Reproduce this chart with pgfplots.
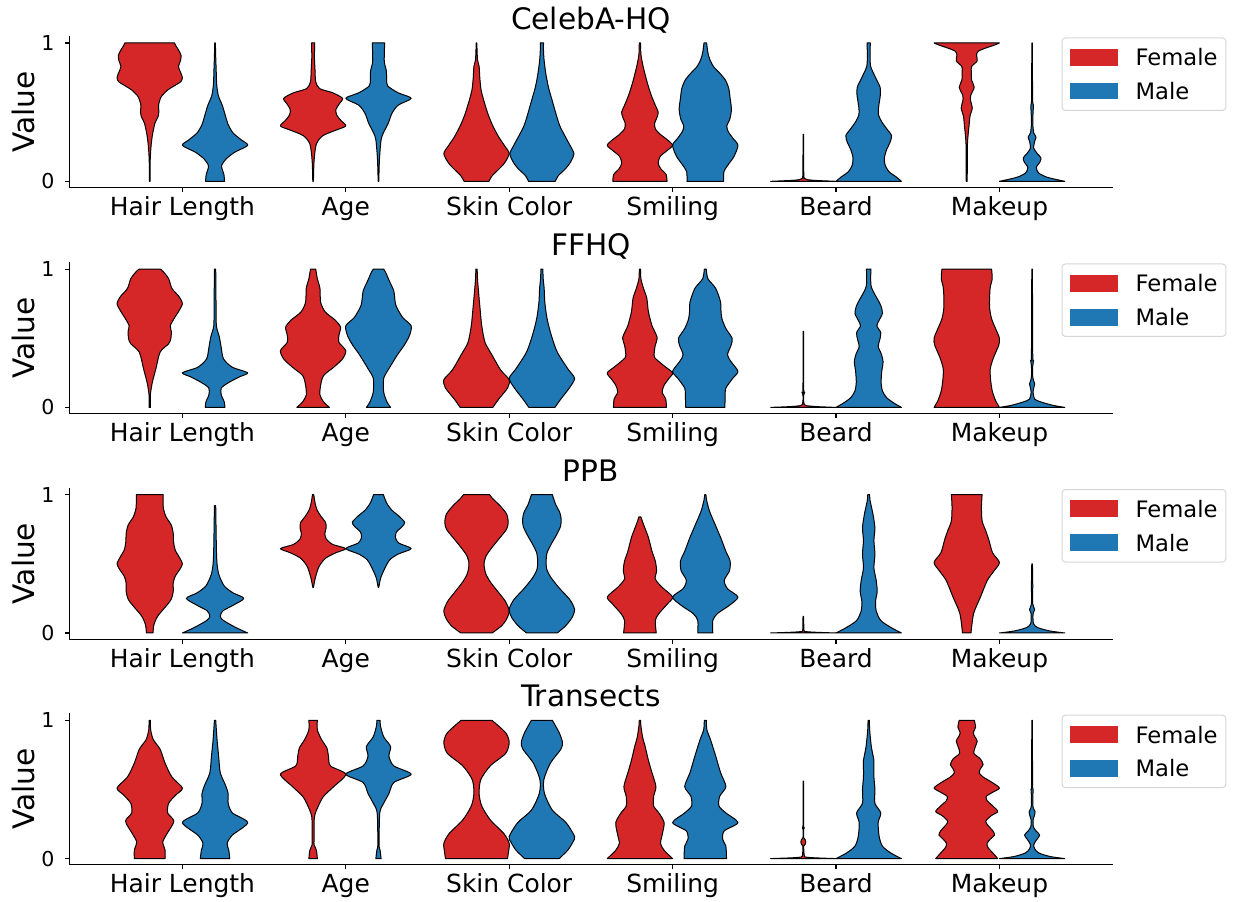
\documentclass[border=0pt]{standalone}
\usepackage{fontspec}
\setmainfont{DejaVu Sans}
\usepackage{pgfplots}
\pgfplotsset{compat=1.18}
\usepackage{pgfplotstable}
\usepgfplotslibrary{fillbetween}

\definecolor{fem}{HTML}{D62728}
\definecolor{mal}{HTML}{1F77B4}
\definecolor{legframe}{HTML}{D6D6D6}

% Each table holds one violin outline: value v and relative half-width w
% (w = 1 is the widest violin, 0.2 axis units from its centre).

% ---------------- CelebA-HQ ----------------
\pgfplotstableread{
v w
0.00 0.01
0.15 0.015
0.25 0.04
0.33 0.08
0.42 0.16
0.47 0.26
0.51 0.28
0.55 0.27
0.61 0.35
0.66 0.55
0.69 0.75
0.72 0.95
0.75 1.00
0.79 0.94
0.83 0.88
0.87 0.94
0.91 0.96
0.95 0.88
0.98 0.80
1.00 0.76
}\cAhF
\pgfplotstableread{
v w
0.00 0.29
0.05 0.27
0.11 0.20
0.16 0.33
0.21 0.60
0.26 1.00
0.30 0.80
0.35 0.55
0.41 0.40
0.48 0.31
0.55 0.22
0.62 0.10
0.70 0.05
0.80 0.035
0.90 0.02
1.00 0.01
}\cAhM
\pgfplotstableread{
v w
0.00 0.01
0.15 0.03
0.27 0.10
0.33 0.30
0.37 0.70
0.40 1.00
0.44 0.85
0.48 0.72
0.52 0.70
0.56 0.80
0.60 0.90
0.64 0.60
0.67 0.20
0.72 0.08
0.80 0.06
0.90 0.04
1.00 0.05
}\cAaF
\pgfplotstableread{
v w
0.00 0.01
0.16 0.03
0.30 0.08
0.35 0.15
0.42 0.30
0.49 0.41
0.55 0.60
0.60 1.00
0.64 0.60
0.69 0.28
0.74 0.25
0.80 0.24
0.86 0.18
0.93 0.18
1.00 0.19
}\cAaM
\pgfplotstableread{
v w
0.00 0.38
0.04 0.48
0.08 0.65
0.13 0.85
0.20 1.00
0.26 0.85
0.32 0.68
0.40 0.50
0.48 0.36
0.57 0.24
0.66 0.14
0.75 0.10
0.83 0.08
0.88 0.03
1.00 0.01
}\cAsF
\pgfplotstableread{
v w
0.00 0.41
0.04 0.50
0.09 0.72
0.14 0.88
0.20 0.98
0.26 0.86
0.33 0.70
0.40 0.55
0.48 0.44
0.58 0.32
0.68 0.20
0.78 0.12
0.87 0.07
0.94 0.05
1.00 0.05
}\cAsM
\pgfplotstableread{
v w
0.00 0.83
0.05 0.80
0.09 0.64
0.13 0.56
0.18 0.62
0.22 0.82
0.26 1.00
0.30 0.84
0.34 0.62
0.38 0.47
0.42 0.45
0.46 0.52
0.50 0.56
0.55 0.47
0.62 0.35
0.70 0.24
0.78 0.15
0.85 0.08
0.92 0.03
1.00 0.02
}\cAmF
\pgfplotstableread{
v w
0.00 0.56
0.07 0.57
0.12 0.70
0.18 0.88
0.26 1.00
0.31 0.85
0.36 0.70
0.40 0.66
0.45 0.75
0.52 0.80
0.60 0.76
0.67 0.72
0.73 0.62
0.78 0.45
0.83 0.25
0.88 0.14
0.93 0.08
1.00 0.04
}\cAmM
\pgfplotstableread{
v w
0.000 1.00
0.006 0.40
0.012 0.12
0.020 0.04
0.040 0.015
0.20 0.01
0.34 0.008
}\cAbF
\pgfplotstableread{
v w
0.00 1.00
0.03 0.85
0.07 0.62
0.12 0.50
0.17 0.48
0.23 0.55
0.28 0.65
0.33 0.70
0.38 0.55
0.43 0.40
0.48 0.30
0.53 0.30
0.58 0.33
0.63 0.36
0.68 0.35
0.73 0.25
0.78 0.15
0.83 0.06
0.90 0.04
1.00 0.05
}\cAbM
\pgfplotstableread{
v w
0.00 0.015
0.25 0.02
0.33 0.04
0.40 0.07
0.47 0.10
0.53 0.17
0.58 0.12
0.62 0.12
0.68 0.23
0.73 0.15
0.79 0.14
0.83 0.15
0.87 0.32
0.91 0.30
0.94 0.35
0.965 0.60
0.985 0.85
1.00 1.00
}\cAkF
\pgfplotstableread{
v w
0.00 1.00
0.01 0.80
0.03 0.45
0.06 0.20
0.10 0.13
0.14 0.24
0.17 0.27
0.20 0.16
0.24 0.05
0.29 0.08
0.32 0.12
0.35 0.05
0.42 0.02
0.50 0.03
0.55 0.04
0.60 0.015
1.00 0.01
}\cAkM

% ---------------- FFHQ ----------------
\pgfplotstableread{
v w
0.00 0.02
0.09 0.02
0.18 0.08
0.28 0.19
0.40 0.32
0.46 0.58
0.50 0.65
0.55 0.66
0.59 0.63
0.64 0.74
0.70 0.90
0.75 1.00
0.80 0.90
0.86 0.68
0.93 0.58
0.98 0.42
1.00 0.32
}\ffhF
\pgfplotstableread{
v w
0.00 0.30
0.04 0.28
0.09 0.19
0.14 0.19
0.18 0.42
0.22 0.74
0.25 1.00
0.29 0.53
0.35 0.26
0.43 0.19
0.51 0.13
0.59 0.04
0.74 0.03
1.00 0.02
}\ffhM
\pgfplotstableread{
v w
0.00 0.50
0.04 0.32
0.09 0.21
0.16 0.23
0.23 0.32
0.29 0.63
0.35 0.90
0.41 1.00
0.47 0.79
0.52 0.79
0.58 0.84
0.63 0.68
0.69 0.37
0.76 0.23
0.86 0.21
0.93 0.13
1.00 0.08
}\ffaF
\pgfplotstableread{
v w
0.00 0.37
0.04 0.26
0.11 0.16
0.21 0.16
0.28 0.32
0.38 0.58
0.45 0.79
0.52 0.95
0.59 1.00
0.65 0.74
0.74 0.53
0.84 0.47
0.91 0.34
0.97 0.23
1.00 0.16
}\ffaM
\pgfplotstableread{
v w
0.00 0.50
0.06 0.68
0.14 0.95
0.20 1.00
0.27 0.74
0.38 0.47
0.47 0.26
0.59 0.16
0.71 0.11
0.84 0.06
0.93 0.03
1.00 0.02
}\ffsF
\pgfplotstableread{
v w
0.00 0.40
0.06 0.58
0.14 0.84
0.21 1.00
0.28 0.79
0.40 0.47
0.52 0.29
0.64 0.16
0.76 0.09
0.86 0.07
0.93 0.04
1.00 0.03
}\ffsM
\pgfplotstableread{
v w
0.00 0.81
0.06 0.79
0.11 0.68
0.16 0.74
0.21 0.89
0.25 1.00
0.30 0.74
0.36 0.45
0.40 0.44
0.45 0.47
0.50 0.53
0.55 0.45
0.59 0.37
0.69 0.26
0.79 0.21
0.86 0.11
0.93 0.03
1.00 0.02
}\ffmF
\pgfplotstableread{
v w
0.00 0.60
0.09 0.61
0.14 0.63
0.21 0.84
0.26 1.00
0.33 0.79
0.38 0.68
0.45 0.79
0.50 0.82
0.57 0.63
0.64 0.51
0.70 0.48
0.76 0.47
0.86 0.32
0.93 0.08
1.00 0.03
}\ffmM
\pgfplotstableread{
v w
0.000 1.00
0.005 0.45
0.012 0.10
0.020 0.03
0.04 0.012
0.09 0.012
0.11 0.045
0.13 0.012
0.55 0.008
}\ffbF
\pgfplotstableread{
v w
0.00 1.00
0.03 0.78
0.07 0.55
0.12 0.42
0.18 0.38
0.26 0.40
0.33 0.44
0.39 0.38
0.44 0.29
0.49 0.34
0.54 0.37
0.59 0.25
0.63 0.32
0.68 0.42
0.73 0.38
0.77 0.30
0.82 0.18
0.87 0.08
0.93 0.06
1.00 0.07
}\ffbM
\pgfplotstableread{
v w
0.00 1.00
0.05 0.88
0.12 0.78
0.20 0.73
0.28 0.72
0.36 0.82
0.45 0.98
0.50 1.00
0.56 0.90
0.64 0.76
0.72 0.70
0.80 0.70
0.87 0.72
0.93 0.78
1.00 0.76
}\ffkF
\pgfplotstableread{
v w
0.00 1.00
0.015 0.63
0.04 0.26
0.06 0.08
0.11 0.03
0.15 0.06
0.17 0.08
0.19 0.05
0.22 0.02
0.30 0.02
0.34 0.045
0.38 0.02
1.00 0.01
}\ffkM

% ---------------- PPB ----------------
\pgfplotstableread{
v w
0.00 0.10
0.06 0.13
0.12 0.24
0.18 0.45
0.24 0.65
0.30 0.72
0.36 0.72
0.41 0.78
0.46 0.92
0.50 1.00
0.55 0.90
0.60 0.78
0.66 0.73
0.72 0.72
0.78 0.66
0.84 0.50
0.90 0.42
0.96 0.41
1.00 0.41
}\pphF
\pgfplotstableread{
v w
0.00 1.00
0.04 0.63
0.09 0.26
0.12 0.16
0.16 0.24
0.20 0.55
0.25 0.88
0.29 0.55
0.34 0.28
0.42 0.12
0.50 0.06
0.62 0.04
0.92 0.02
}\pphM
\pgfplotstableread{
v w
0.33 0.01
0.40 0.07
0.48 0.18
0.54 0.38
0.58 0.70
0.61 1.00
0.64 0.60
0.68 0.40
0.72 0.36
0.76 0.40
0.80 0.38
0.84 0.25
0.89 0.12
0.94 0.06
1.00 0.02
}\ppaF
\pgfplotstableread{
v w
0.33 0.01
0.40 0.07
0.47 0.20
0.53 0.35
0.57 0.60
0.61 1.00
0.65 0.62
0.69 0.52
0.73 0.55
0.77 0.73
0.80 0.80
0.84 0.65
0.89 0.40
0.94 0.25
1.00 0.15
}\ppaM
\pgfplotstableread{
v w
0.00 0.48
0.05 0.76
0.10 0.92
0.16 1.00
0.23 0.88
0.30 0.65
0.37 0.42
0.43 0.28
0.50 0.23
0.56 0.30
0.62 0.48
0.69 0.72
0.75 0.92
0.80 0.97
0.86 0.92
0.92 0.72
0.97 0.50
1.00 0.40
}\ppsF
\pgfplotstableread{
v w
0.00 0.47
0.05 0.72
0.11 0.92
0.17 1.00
0.24 0.86
0.32 0.55
0.40 0.28
0.46 0.15
0.52 0.13
0.58 0.16
0.64 0.28
0.71 0.45
0.77 0.57
0.82 0.59
0.87 0.55
0.93 0.42
1.00 0.32
}\ppsM
\pgfplotstableread{
v w
0.00 0.50
0.09 0.47
0.14 0.58
0.21 0.84
0.26 1.00
0.33 0.68
0.39 0.47
0.45 0.51
0.52 0.47
0.59 0.37
0.69 0.26
0.76 0.15
0.81 0.07
0.84 0.03
}\ppmF
\pgfplotstableread{
v w
0.00 0.23
0.09 0.23
0.14 0.37
0.20 0.74
0.26 1.00
0.32 0.68
0.38 0.58
0.45 0.74
0.52 0.76
0.59 0.63
0.69 0.47
0.79 0.29
0.88 0.13
0.96 0.04
1.00 0.02
}\ppmM
\pgfplotstableread{
v w
0.000 1.00
0.005 0.40
0.010 0.08
0.020 0.02
0.12 0.01
}\ppbF
\pgfplotstableread{
v w
0.00 1.00
0.04 0.68
0.09 0.37
0.16 0.23
0.23 0.21
0.30 0.26
0.38 0.23
0.47 0.16
0.57 0.19
0.67 0.16
0.76 0.19
0.86 0.13
0.96 0.04
1.00 0.03
}\ppbM
\pgfplotstableread{
v w
0.00 0.13
0.14 0.21
0.26 0.42
0.38 0.63
0.45 0.84
0.51 1.00
0.58 0.79
0.67 0.68
0.74 0.58
0.81 0.47
0.91 0.45
1.00 0.47
}\ppkF
\pgfplotstableread{
v w
0.00 1.00
0.015 0.53
0.04 0.16
0.07 0.04
0.14 0.03
0.17 0.08
0.21 0.02
0.35 0.02
0.50 0.01
}\ppkM

% ---------------- Transects ----------------
\pgfplotstableread{
v w
0.00 0.47
0.06 0.47
0.12 0.40
0.18 0.53
0.27 0.74
0.33 0.55
0.40 0.58
0.46 0.80
0.51 1.00
0.59 0.68
0.69 0.47
0.79 0.32
0.86 0.11
0.93 0.03
1.00 0.02
}\trhF
\pgfplotstableread{
v w
0.00 0.45
0.06 0.42
0.11 0.37
0.17 0.53
0.26 1.00
0.33 0.53
0.40 0.40
0.47 0.40
0.53 0.32
0.62 0.16
0.74 0.11
0.86 0.06
1.00 0.02
}\trhM
\pgfplotstableread{
v w
0.00 0.13
0.06 0.10
0.10 0.03
0.14 0.03
0.30 0.04
0.38 0.16
0.45 0.32
0.52 0.63
0.61 1.00
0.67 0.53
0.74 0.47
0.80 0.42
0.86 0.26
0.93 0.13
1.00 0.13
}\traF
\pgfplotstableread{
v w
0.00 0.08
0.06 0.05
0.10 0.02
0.33 0.04
0.40 0.16
0.47 0.32
0.55 0.47
0.61 1.00
0.67 0.47
0.74 0.32
0.81 0.37
0.88 0.16
0.96 0.06
1.00 0.05
}\traM
\pgfplotstableread{
v w
0.00 0.95
0.05 0.98
0.11 1.00
0.18 0.84
0.28 0.42
0.38 0.16
0.47 0.08
0.57 0.13
0.67 0.42
0.76 0.89
0.84 1.00
0.91 0.89
1.00 0.47
}\trsF
\pgfplotstableread{
v w
0.00 0.53
0.06 0.79
0.12 0.95
0.16 1.00
0.26 0.74
0.35 0.32
0.47 0.08
0.57 0.06
0.69 0.26
0.79 0.58
0.84 0.63
0.91 0.53
1.00 0.32
}\trsM
\pgfplotstableread{
v w
0.00 1.00
0.06 0.74
0.11 0.63
0.17 0.68
0.26 0.74
0.33 0.58
0.38 0.42
0.45 0.42
0.52 0.49
0.62 0.37
0.71 0.26
0.81 0.16
0.88 0.08
0.96 0.03
1.00 0.02
}\trmF
\pgfplotstableread{
v w
0.00 0.65
0.09 0.63
0.14 0.53
0.20 0.58
0.26 1.00
0.33 0.63
0.38 0.42
0.45 0.44
0.52 0.63
0.62 0.47
0.74 0.32
0.86 0.16
0.93 0.05
1.00 0.03
}\trmM
\pgfplotstableread{
v w
0.000 1.00
0.005 0.40
0.010 0.10
0.020 0.03
0.09 0.012
0.105 0.06
0.12 0.075
0.135 0.06
0.15 0.012
0.21 0.01
0.225 0.03
0.24 0.01
0.56 0.008
}\trbF
\pgfplotstableread{
v w
0.00 1.00
0.04 0.68
0.09 0.42
0.16 0.32
0.26 0.29
0.33 0.37
0.40 0.19
0.50 0.19
0.59 0.16
0.67 0.16
0.71 0.16
0.81 0.08
0.93 0.03
1.00 0.02
}\trbM
\pgfplotstableread{
v w
0.00 0.95
0.04 0.80
0.08 0.65
0.11 0.62
0.14 0.72
0.17 0.85
0.20 0.80
0.24 0.65
0.27 0.58
0.31 0.75
0.34 0.95
0.38 0.80
0.42 0.62
0.45 0.60
0.48 0.80
0.51 1.00
0.55 0.78
0.59 0.50
0.62 0.38
0.65 0.42
0.68 0.50
0.72 0.42
0.76 0.22
0.80 0.25
0.85 0.32
0.88 0.25
0.91 0.20
0.95 0.27
1.00 0.23
}\trkF
\pgfplotstableread{
v w
0.00 1.00
0.015 0.55
0.04 0.21
0.07 0.08
0.10 0.05
0.13 0.12
0.17 0.23
0.20 0.12
0.23 0.04
0.28 0.03
0.31 0.07
0.34 0.09
0.37 0.03
0.45 0.02
0.50 0.035
0.54 0.015
1.00 0.01
}\trkM

% One violin: right and left outlines (both running upwards), joined into
% one closed outline and filled.
% #1 table, #2 centre on the x axis, #3 fill colour, #4 unique name
\newcommand{\violin}[4]{%
  \addplot[draw=none, forget plot, smooth, tension=0.45, name path=#4r]
    table[x expr={#2+0.2*\thisrow{w}}, y=v] {#1};
  \addplot[draw=none, forget plot, smooth, tension=0.45, name path=#4l]
    table[x expr={#2-0.2*\thisrow{w}}, y=v] {#1};
  \addplot[fill=#3, draw=black, line width=0.75pt, line join=round, forget plot]
    fill between[of=#4r and #4l, reverse=true];
}

\pgfplotsset{
  legend image code/.code={\fill[#1, draw=none, sharp corners] (0pt,-6.3pt) rectangle (35.5pt,6.3pt);},
  panel/.style={
    scale only axis, width=782.5pt, height=113.6pt, anchor=south west,
    xmin=-0.692, xmax=5.693, ymin=-0.045, ymax=1.05,
    axis x line*=bottom, axis y line*=left,
    axis line style={-, line width=0.8pt, black},
    xtick={0,1,2,3,4,5},
    xticklabels={Hair Length, Age, Skin Color, Smiling, Beard, Makeup},
    ytick={0,1}, yticklabels={0,1},
    tick align=outside, major tick length=3.4pt,
    tick style={line width=0.8pt, black},
    xticklabel style={font=\fontsize{18.7}{22}\selectfont, anchor=base, inner sep=0pt, yshift=-17.6pt},
    yticklabel style={font=\fontsize{15.4}{18}\selectfont, anchor=east, inner sep=0pt, xshift=-7.5pt},
    every axis title/.style={at={(axis description cs:0.5,1)}, anchor=base, yshift=4.8pt,
      font=\fontsize{22.2}{26}\selectfont},
    every axis y label/.style={at={(axis description cs:-0.0329,0.5)}, rotate=90, anchor=base,
      font=\fontsize{22.2}{26}\selectfont},
    ylabel={Value},
    legend cell align=left,
    legend style={at={(axis description cs:0.951,0.991)}, anchor=north west,
      draw=legframe, line width=0.75pt, rounded corners=2.5pt, fill=white,
      inner xsep=6.2pt, inner ysep=8pt, row sep=12.5pt, column sep=13.5pt,
      nodes={inner sep=0pt, text depth=0pt},
      font=\fontsize{17}{20}\selectfont},
  },
}

\begin{document}
\begin{tikzpicture}

\begin{axis}[panel, at={(51.98pt,535.1pt)}, title={CelebA-HQ}]
  \violin{\cAhF}{-0.2}{fem}{cAhF}
  \violin{\cAhM}{0.2}{mal}{cAhM}
  \violin{\cAaF}{0.8}{fem}{cAaF}
  \violin{\cAaM}{1.2}{mal}{cAaM}
  \violin{\cAsF}{1.8}{fem}{cAsF}
  \violin{\cAsM}{2.2}{mal}{cAsM}
  \violin{\cAmF}{2.8}{fem}{cAmF}
  \violin{\cAmM}{3.2}{mal}{cAmM}
  \violin{\cAbF}{3.8}{fem}{cAbF}
  \violin{\cAbM}{4.2}{mal}{cAbM}
  \violin{\cAkF}{4.8}{fem}{cAkF}
  \violin{\cAkM}{5.2}{mal}{cAkM}
  \addlegendimage{fill=fem}\addlegendentry{Female}
  \addlegendimage{fill=mal}\addlegendentry{Male}
\end{axis}

\begin{axis}[panel, at={(51.98pt,365.55pt)}, title={FFHQ}]
  \violin{\ffhF}{-0.2}{fem}{ffhF}
  \violin{\ffhM}{0.2}{mal}{ffhM}
  \violin{\ffaF}{0.8}{fem}{ffaF}
  \violin{\ffaM}{1.2}{mal}{ffaM}
  \violin{\ffsF}{1.8}{fem}{ffsF}
  \violin{\ffsM}{2.2}{mal}{ffsM}
  \violin{\ffmF}{2.8}{fem}{ffmF}
  \violin{\ffmM}{3.2}{mal}{ffmM}
  \violin{\ffbF}{3.8}{fem}{ffbF}
  \violin{\ffbM}{4.2}{mal}{ffbM}
  \violin{\ffkF}{4.8}{fem}{ffkF}
  \violin{\ffkM}{5.2}{mal}{ffkM}
  \addlegendimage{fill=fem}\addlegendentry{Female}
  \addlegendimage{fill=mal}\addlegendentry{Male}
\end{axis}

\begin{axis}[panel, at={(51.98pt,196.35pt)}, title={PPB}]
  \violin{\pphF}{-0.2}{fem}{pphF}
  \violin{\pphM}{0.2}{mal}{pphM}
  \violin{\ppaF}{0.8}{fem}{ppaF}
  \violin{\ppaM}{1.2}{mal}{ppaM}
  \violin{\ppsF}{1.8}{fem}{ppsF}
  \violin{\ppsM}{2.2}{mal}{ppsM}
  \violin{\ppmF}{2.8}{fem}{ppmF}
  \violin{\ppmM}{3.2}{mal}{ppmM}
  \violin{\ppbF}{3.8}{fem}{ppbF}
  \violin{\ppbM}{4.2}{mal}{ppbM}
  \violin{\ppkF}{4.8}{fem}{ppkF}
  \violin{\ppkM}{5.2}{mal}{ppkM}
  \addlegendimage{fill=fem}\addlegendentry{Female}
  \addlegendimage{fill=mal}\addlegendentry{Male}
\end{axis}

\begin{axis}[panel, at={(51.98pt,27.15pt)}, title={Transects}]
  \violin{\trhF}{-0.2}{fem}{trhF}
  \violin{\trhM}{0.2}{mal}{trhM}
  \violin{\traF}{0.8}{fem}{traF}
  \violin{\traM}{1.2}{mal}{traM}
  \violin{\trsF}{1.8}{fem}{trsF}
  \violin{\trsM}{2.2}{mal}{trsM}
  \violin{\trmF}{2.8}{fem}{trmF}
  \violin{\trmM}{3.2}{mal}{trmM}
  \violin{\trbF}{3.8}{fem}{trbF}
  \violin{\trbM}{4.2}{mal}{trbM}
  \violin{\trkF}{4.8}{fem}{trkF}
  \violin{\trkM}{5.2}{mal}{trkM}
  \addlegendimage{fill=fem}\addlegendentry{Female}
  \addlegendimage{fill=mal}\addlegendentry{Male}
\end{axis}

\pgfresetboundingbox
\path[use as bounding box] (0pt,0pt) rectangle (926.25pt,675.75pt);
\end{tikzpicture}
\end{document}
